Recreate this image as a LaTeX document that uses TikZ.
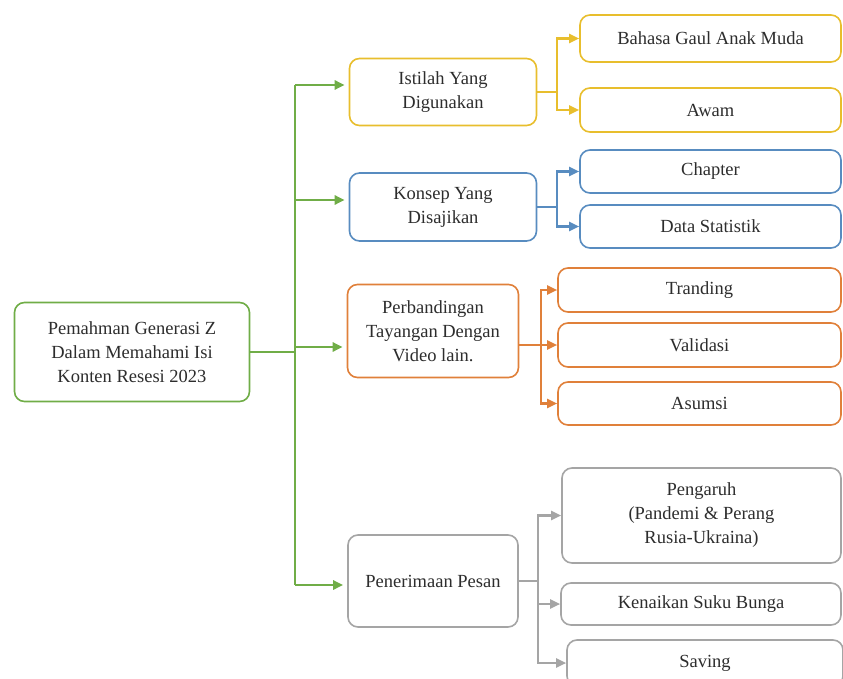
\documentclass[tikz,border=0pt]{standalone}
\usepackage{fontspec}
\setmainfont{Liberation Serif}
\usetikzlibrary{arrows.meta}
\definecolor{grn}{RGB}{112,173,71}
\definecolor{yel}{RGB}{232,190,45}
\definecolor{blu}{RGB}{88,140,192}
\definecolor{org}{RGB}{224,128,58}
\definecolor{gry}{RGB}{165,165,165}
\definecolor{txt}{RGB}{45,45,45}

\begin{document}
\begin{tikzpicture}[x=1pt,y=-1pt,
    box/.style={draw,rounded corners=10pt,line width=1.6pt,align=center,fill=white,
                text=txt,font=\fontsize{18.5}{24}\selectfont},
    arr/.style={-{Triangle[length=10pt,width=9pt]},line width=2.2pt},
    link/.style={line width=2.2pt}]
    \useasboundingbox (0,0) rectangle (843,679);

    \node[box,draw=grn,minimum width=235pt,minimum height=99pt] (root) at (132,352)
        {Pemahman Generasi Z\\Dalam Memahami Isi\\Konten Resesi 2023};

    \node[box,draw=yel,minimum width=187pt,minimum height=67pt] (istilah) at (443,92) {Istilah Yang\\Digunakan};
    \node[box,draw=blu,minimum width=187pt,minimum height=68pt] (konsep) at (443,207) {Konsep Yang\\Disajikan};
    \node[box,draw=org,minimum width=171pt,minimum height=93pt] (banding) at (433,331)
        {Perbandingan\\Tayangan Dengan\\Video lain.};
    \node[box,draw=gry,minimum width=170pt,minimum height=92pt] (terima) at (433,581) {Penerimaan Pesan};

    \node[box,draw=yel,minimum width=261pt,minimum height=47pt] (bahasa) at (710.5,38.5) {Bahasa Gaul Anak Muda};
    \node[box,draw=yel,minimum width=261pt,minimum height=44pt] (awam) at (710.5,110) {Awam};
    \node[box,draw=blu,minimum width=261pt,minimum height=43pt] (chapter) at (710.5,171.5) {Chapter};
    \node[box,draw=blu,minimum width=261pt,minimum height=43pt] (statistik) at (710.5,226.5) {Data Statistik};
    \node[box,draw=org,minimum width=283pt,minimum height=44pt] (tranding) at (699.5,290) {Tranding};
    \node[box,draw=org,minimum width=283pt,minimum height=44pt] (validasi) at (699.5,345) {Validasi};
    \node[box,draw=org,minimum width=283pt,minimum height=43pt] (asumsi) at (699.5,403.5) {Asumsi};
    \node[box,draw=gry,minimum width=279pt,minimum height=95pt] (pengaruh) at (701.5,515.5)
        {Pengaruh\\(Pandemi \& Perang\\Rusia-Ukraina)};
    \node[box,draw=gry,minimum width=280pt,minimum height=42pt] (bunga) at (701,604) {Kenaikan Suku Bunga};
    \node[box,draw=gry,minimum width=276pt,minimum height=46pt] (saving) at (705,663) {Saving};

    % batang utama
    \coordinate (t1) at (295,85);
    \coordinate (t2) at (295,200);
    \coordinate (t3) at (295,347);
    \coordinate (t4) at (295,585);
    \draw[grn,link,line width=2.8pt] (root.east) -- (root.east -| t1);
    \draw[grn,link,line width=2.8pt] (t1) -- (t4);
    \draw[grn,arr,line width=2.6pt,shorten >=4pt] (t1) -- (t1 -| istilah.west);
    \draw[grn,arr,line width=2.6pt,shorten >=4pt] (t2) -- (t2 -| konsep.west);
    \draw[grn,arr,line width=2.6pt,shorten >=4pt] (t3) -- (t3 -| banding.west);
    \draw[grn,arr,line width=2.6pt,shorten >=4pt] (t4) -- (t4 -| terima.west);

    \draw[yel,link] (istilah.east) -- ++(20,0) coordinate (ji);
    \draw[yel,arr] (ji) |- (bahasa.west);
    \draw[yel,arr] (ji) |- (awam.west);

    \draw[blu,link] (konsep.east) -- ++(20,0) coordinate (jk);
    \draw[blu,arr] (jk) |- (chapter.west);
    \draw[blu,arr] (jk) |- (statistik.west);

    \draw[org,arr] (banding.east |- validasi.west) -- (validasi.west);
    \path (banding.east |- validasi.west) ++(22,0) coordinate (jb);
    \draw[org,arr] (jb) |- (tranding.west);
    \draw[org,arr] (jb) |- (asumsi.west);

    \draw[gry,link] (terima.east) -- ++(19,0) coordinate (jt);
    \draw[gry,arr] (jt) |- (pengaruh.west);
    \draw[gry,arr] (jt) |- (bunga.west);
    \draw[gry,arr] (jt) |- (saving.west);
\end{tikzpicture}
\end{document}
